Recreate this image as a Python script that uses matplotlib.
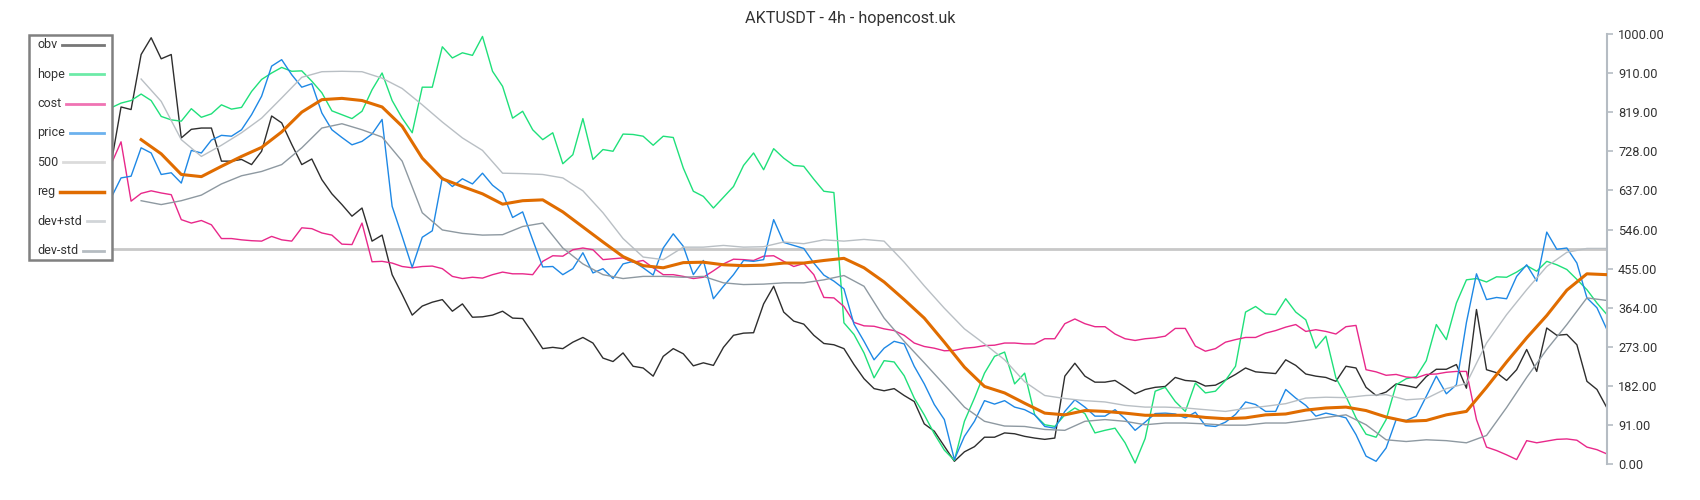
import matplotlib
matplotlib.use('Agg')
import matplotlib.pyplot as plt
from matplotlib.lines import Line2D
from matplotlib.patches import Rectangle
import numpy as np

plt.rcParams['font.family'] = ['Roboto', 'DejaVu Sans']

title = 'AKTUSDT - 4h - hopencost.uk'

# one value per bar (150 bars)
obv = [697, 831, 825, 953, 992, 943, 953, 759, 779, 782, 782, 705, 705, 709, 697, 728, 810, 794, 744, 697,
       710, 662, 629, 604, 577, 596, 519, 533, 441, 395,
       347, 368, 377, 383, 356, 373, 342, 343, 347, 356, 340, 339, 305, 269, 272, 269, 284, 295, 282, 247,
       239, 259, 228, 224, 205, 251, 269, 257, 229, 236,
       230, 272, 300, 305, 306, 373, 414, 354, 333, 326, 300, 281, 278, 269, 232, 199, 176, 171, 176, 160,
       146, 94, 77, 42, 7, 29, 41, 63, 63, 73,
       71, 65, 61, 58, 61, 205, 235, 205, 191, 191, 195, 180, 164, 174, 179, 181, 202, 195, 193, 182,
       184, 196, 209, 224, 215, 213, 211, 243, 230, 210,
       205, 202, 193, 228, 224, 179, 160, 168, 187, 183, 178, 204, 221, 221, 232, 177, 360, 220, 213, 195,
       220, 267, 216, 317, 300, 302, 278, 193, 174, 131]

hope = [829, 840, 846, 861, 846, 809, 801, 798, 827, 807, 815, 836, 826, 830, 867, 895, 910, 923, 914, 915,
        891, 864, 822, 813, 804, 821, 871, 910, 846, 805,
        771, 877, 877, 971, 945, 957, 951, 995, 914, 879, 805, 821, 778, 755, 771, 699, 720, 804, 709, 732,
        728, 768, 767, 763, 742, 763, 760, 689, 635, 623,
        596, 621, 646, 695, 724, 685, 734, 712, 695, 693, 663, 635, 632, 329, 302, 259, 201, 241, 238, 206,
        154, 115, 71, 33, 9, 100, 154, 212, 251, 261,
        187, 212, 115, 92, 88, 115, 131, 118, 73, 79, 84, 50, 3, 60, 170, 179, 146, 123, 189, 166,
        170, 195, 228, 354, 367, 350, 348, 385, 354, 336,
        270, 298, 201, 158, 108, 70, 63, 104, 185, 199, 204, 241, 325, 290, 375, 429, 432, 424, 436, 435,
        447, 462, 449, 472, 464, 453, 430, 406, 375, 348]

cost = [697, 750, 612, 630, 636, 631, 627, 569, 561, 567, 557, 525, 525, 522, 520, 519, 530, 522, 519, 550,
        548, 538, 533, 512, 511, 561, 471, 472, 468, 460,
        457, 460, 461, 455, 437, 432, 435, 433, 441, 447, 443, 443, 441, 472, 485, 484, 499, 503, 499, 476,
        478, 480, 470, 474, 457, 441, 441, 437, 432, 435,
        450, 466, 477, 476, 474, 484, 485, 472, 460, 467, 441, 388, 387, 367, 330, 322, 321, 315, 311, 300,
        282, 274, 270, 264, 265, 270, 272, 276, 277, 282,
        282, 280, 280, 292, 292, 327, 338, 327, 320, 320, 303, 292, 288, 292, 294, 298, 316, 316, 275, 263,
        269, 284, 290, 295, 295, 305, 311, 319, 325, 309,
        313, 309, 303, 320, 323, 220, 215, 207, 209, 203, 201, 209, 210, 214, 216, 216, 104, 40, 32, 22,
        11, 55, 50, 54, 58, 59, 56, 40, 34, 24]

price = [619, 666, 670, 736, 724, 674, 678, 654, 730, 724, 754, 765, 763, 778, 813, 856, 926, 941, 906, 877,
         885, 817, 778, 760, 743, 751, 768, 802, 600, 530,
         458, 528, 543, 667, 646, 664, 652, 677, 649, 631, 574, 587, 522, 459, 460, 441, 455, 492, 445, 455,
         432, 466, 472, 457, 440, 503, 536, 507, 441, 474,
         385, 414, 441, 474, 472, 476, 569, 516, 509, 502, 468, 440, 426, 408, 326, 286, 243, 270, 286, 280,
         228, 187, 139, 104, 11, 65, 100, 148, 140, 148,
         133, 127, 115, 88, 84, 123, 150, 133, 112, 112, 127, 106, 79, 98, 118, 119, 117, 108, 121, 90,
         88, 98, 116, 145, 139, 123, 123, 174, 154, 137,
         112, 119, 114, 108, 69, 19, 7, 38, 104, 102, 112, 158, 205, 164, 185, 330, 443, 383, 388, 385,
         437, 464, 426, 540, 500, 503, 468, 387, 364, 313]

level = 500

# regression + bands, every second bar from bar 3
reg = [755, 722, 674, 669, 693, 716, 737, 773, 819, 848, 851, 846, 831, 786,
       712, 664, 646, 629, 605, 613, 615, 587, 552, 517, 483, 462, 457, 469, 470,
       464, 462, 463, 468, 468, 474, 479, 457, 424, 383, 340, 284, 226, 181, 166,
       142, 119, 115, 125, 123, 119, 114, 114, 114, 109, 106, 108, 115, 117, 126,
       131, 133, 125, 110, 100, 102, 115, 123, 179, 238, 294, 346, 405, 443, 441]

dev_hi = [896, 844, 755, 716, 742, 771, 805, 852, 900, 913, 914, 913, 898, 874,
          836, 796, 759, 730, 677, 676, 674, 666, 636, 585, 525, 482, 476, 505, 505,
          509, 505, 506, 517, 513, 522, 519, 523, 519, 470, 415, 363, 315, 280, 243,
          192, 160, 153, 148, 145, 137, 133, 133, 131, 127, 123, 130, 135, 141, 154,
          156, 155, 160, 162, 150, 153, 176, 188, 282, 348, 406, 460, 493, 502, 502]

dev_lo = [613, 604, 613, 626, 652, 671, 681, 697, 736, 782, 792, 778, 761, 705,
          585, 545, 537, 533, 534, 553, 561, 503, 466, 441, 432, 437, 437, 435, 437,
          422, 418, 419, 422, 422, 429, 439, 414, 340, 286, 236, 185, 133, 100, 89,
          88, 81, 79, 100, 104, 100, 92, 96, 96, 94, 91, 91, 96, 96, 102,
          109, 115, 92, 57, 53, 57, 55, 50, 67, 132, 202, 267, 325, 387, 381]

yticks = [0, 91, 182, 273, 364, 455, 546, 637, 728, 819, 910, 1000]

W, H = 1700, 500
bars = np.arange(len(obv))
reg_bars = np.arange(3, len(obv), 2)

fig = plt.figure(figsize=(W / 100, H / 100), dpi=100)
ax = fig.add_axes([111 / W, 1 - 464.3 / H, 1496 / W, 430 / H])

ax.plot(bars, obv, color='#2e2e2e', lw=1, label='obv')
ax.plot(bars, hope, color='#1fe07a', lw=1, label='hope')
ax.plot(bars, cost, color='#e8288a', lw=1, label='cost')
ax.plot(bars, price, color='#1e88e5', lw=1, label='price')
ax.axhline(level, color='#c8c8c8', lw=2, label='500', zorder=1)
ax.plot(reg_bars, reg, color='#e06c00', lw=2.2, label='reg', zorder=3)
ax.plot(reg_bars, dev_hi, color='#b9bfc4', lw=1, label='dev+std')
ax.plot(reg_bars, dev_lo, color='#8e99a1', lw=1, label='dev-std')

ax.set_xlim(0, len(obv) - 1)
ax.set_ylim(0, 1000)
ax.set_xticks([])
ax.yaxis.tick_right()
ax.set_yticks(yticks)
ax.set_yticklabels([f'{t:.2f}' for t in yticks])
ax.tick_params(axis='y', colors='#b5bcc3', labelcolor='#333333', length=4, width=1.2,
               labelsize=9.2, pad=4)
for side in ['left', 'top', 'bottom']:
    ax.spines[side].set_visible(False)
ax.spines['right'].set_color('#b5bcc3')
ax.spines['right'].set_linewidth(1.5)

fig.text(0.5, 1 - 18 / H, title, ha='center', va='center', fontsize=11.6, color='#333333')

# legend box: label on the left, swatch running to the right edge
fig.patches.append(Rectangle((29 / W, 1 - 259.7 / H), 83 / W, 225 / H, transform=fig.transFigure,
                             facecolor='white', edgecolor='#808080', lw=1.8, zorder=5))
handles, labels = ax.get_legend_handles_labels()
texts = []
for i, lab in enumerate(labels):
    y = 1 - (44.7 + 29.43 * i) / H
    texts.append(fig.text(37 / W, y, lab, ha='left', va='center', fontsize=9,
                          color='#333333', zorder=6))
fig.canvas.draw()
for h, t in zip(handles, texts):
    bb = t.get_window_extent()
    y = (bb.y0 + bb.y1) / 2 / H
    lw = 2.5 if h.get_label() == 'reg' else 2
    alpha = 1 if h.get_label() == 'reg' else 0.65
    fig.lines.append(Line2D([(bb.x1 + 5) / W, 104 / W], [y, y], transform=fig.transFigure,
                            color=h.get_color(), lw=lw, alpha=alpha, zorder=6))

fig.savefig('out.png', dpi=100)
